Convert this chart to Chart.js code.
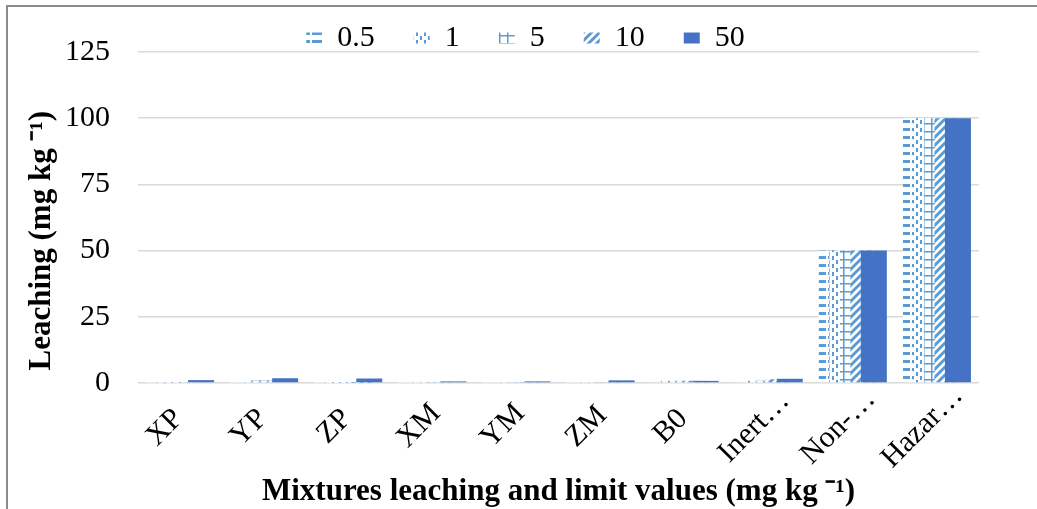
<!DOCTYPE html>
<html>
<head>
<meta charset="utf-8">
<script src="https://cdn.jsdelivr.net/npm/chart.js@4/dist/chart.umd.min.js"></script>
<style>
  html, body { margin: 0; padding: 0; background: #fff; }
  #wrap { position: relative; width: 1037px; height: 509px; overflow: hidden; }
  #frame { position: absolute; left: 6px; top: 5px; width: 1100px; height: 600px;
           border-left: 2px solid #8c8c8c; border-top: 2px solid #8c8c8c; }
  #chart { position: absolute; left: 0; top: 0; }
</style>
</head>
<body>
<div id="wrap">
  <div id="frame"></div>
  <canvas id="chart" width="1037" height="509"></canvas>
</div>
<script>
// データ
const categories = ['XP', 'YP', 'ZP', 'XM', 'YM', 'ZM', 'B0', 'Inert…', 'Non-…', 'Hazar…'];
const seriesNames = ['0.5', '1', '5', '10', '50'];
const s05 = [0.1, 0.1, 0.05, 0.1, 0.1, 0.1, 0.5, 1.0, 50, 100];
const s1  = [0.1, 0.2, 0.05, 0.4, 0.2, 0.2, 0.8, 0.8, 50, 100];
const s5  = [0.1, 1.0, 0.05, 0.4, 0.2, 0.3, 0.8, 0.9, 50, 100];
const s10 = [0.3, 0.3, 0.05, 0.2, 0.2, 0.2, 0.8, 1.4, 50, 100];
const s50 = [1.1, 1.8, 1.7, 0.6, 0.6, 1.0, 0.8, 1.6, 50, 100];
const yTicks = [0, 25, 50, 75, 100, 125];

const light = '#5b9bd5';
const dark = '#4472c4';
const serif = '"Liberation Serif", "Times New Roman", serif';
const labelSize = 30;

const ctx = document.getElementById('chart').getContext('2d');

// パターン塗り (Excel風)
function makePattern(w, h, paint) {
  const c = document.createElement('canvas');
  c.width = w; c.height = h;
  const g = c.getContext('2d');
  g.fillStyle = '#fff';
  g.fillRect(0, 0, w, h);
  g.fillStyle = light;
  g.strokeStyle = light;
  paint(g);
  return ctx.createPattern(c, 'repeat');
}

const patDashH = makePattern(12, 8, g => { g.fillRect(0, 0, 10, 3); });
const patDashV = makePattern(8, 8, g => { g.fillRect(0, 0, 2, 4); g.fillRect(4, 4, 2, 4); });
const patGrid = makePattern(8, 8, g => { g.fillRect(0, 3, 8, 1.5); g.fillRect(3, 0, 1.5, 8); });
const patDiag = makePattern(8, 8, g => {
  g.lineWidth = 3;
  g.beginPath();
  g.moveTo(-1, 9); g.lineTo(9, -1);
  g.moveTo(-1, 1); g.lineTo(1, -1);
  g.moveTo(7, 9); g.lineTo(9, 7);
  g.stroke();
});

const fills = [patDashH, patDashV, patGrid, patDiag, dark];
const values = [s05, s1, s5, s10, s50];

// 斜めラベルを中央寄せにするため、末尾に空白を足す
ctx.font = labelSize + 'px ' + serif;
const spaceW = ctx.measureText(' ').width;
const hairW = ctx.measureText('\u200A').width;
const K = 56;
function padLabel(txt) {
  let rest = K - ctx.measureText(txt).width / 2;
  let out = txt;
  while (rest >= spaceW * 0.75) { out += ' '; rest -= spaceW; }
  if (hairW > 0) { while (rest >= hairW * 0.75) { out += '\u200A'; rest -= hairW; } }
  return out;
}

// 後の系列を上に重ねて描く
const drawInOrder = {
  id: 'drawInOrder',
  beforeDatasetsDraw(chart) {
    for (let i = 0; i < chart.data.datasets.length; i++) {
      chart.getDatasetMeta(i).controller.draw();
    }
    return false;
  }
};

// 凡例の高さを固定、少し右へ
const legendTweak = {
  id: 'legendTweak',
  beforeLayout(chart) {
    const lg = chart.legend;
    if (lg && !lg._fixed) {
      const fit = lg.fit;
      lg.fit = function () { fit.call(this); this.height = 68; };
      lg._fixed = true;
    }
  },
  afterLayout(chart) {
    chart.legend.left += 72;
  }
};

new Chart(ctx, {
  type: 'bar',
  data: {
    labels: categories,
    datasets: seriesNames.map((name, i) => ({
      label: name,
      data: values[i],
      backgroundColor: fills[i],
      borderWidth: 0,
      categoryPercentage: 0.624,
      barPercentage: 2.476
    }))
  },
  options: {
    responsive: false,
    animation: false,
    layout: { padding: { left: 0, right: 58, top: -16, bottom: 0 } },
    plugins: {
      legend: {
        position: 'top',
        labels: {
          font: { family: serif, size: 30 },
          color: '#000',
          boxWidth: 16,
          boxHeight: 11,
          padding: 39
        }
      },
      tooltip: { enabled: false }
    },
    scales: {
      x: {
        grid: { display: false },
        border: { display: false },
        ticks: {
          font: { family: serif, size: labelSize },
          color: '#000',
          maxRotation: 45,
          minRotation: 45,
          labelOffset: 25,
          padding: -16,
          autoSkip: false,
          callback: function (v, i) { return padLabel(categories[i]); }
        },
        title: {
          display: true,
          text: 'Mixtures leaching and limit values (mg kg ⁻¹)',
          font: { family: serif, size: 31, weight: 'bold' },
          color: '#000',
          padding: { top: 0, bottom: -2 }
        },
        afterFit: s => { s.height = 126; }
      },
      y: {
        min: 0,
        max: 125,
        afterBuildTicks: s => { s.ticks = yTicks.map(v => ({ value: v })); },
        grid: { color: '#d9d9d9', lineWidth: 1.5, drawTicks: false },
        border: { display: false },
        ticks: {
          font: { family: serif, size: 30 },
          color: '#000',
          padding: 28
        },
        title: {
          display: true,
          text: 'Leaching (mg kg ⁻¹)      ',
          font: { family: serif, size: 31, weight: 'bold' },
          color: '#000',
          padding: { top: 23, bottom: 0 }
        },
        afterFit: s => { s.width = 138; }
      }
    }
  },
  plugins: [drawInOrder, legendTweak]
});
</script>
</body>
</html>
